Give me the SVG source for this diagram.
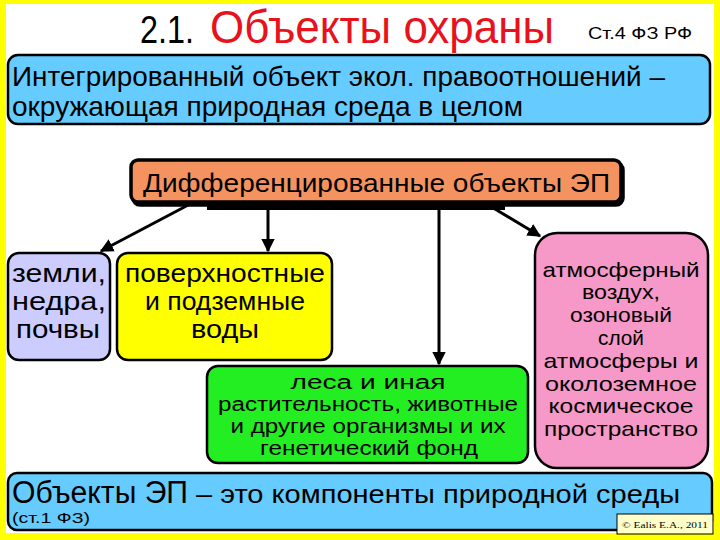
<svg xmlns="http://www.w3.org/2000/svg" width="720" height="540" viewBox="0 0 720 540">
<style>
text{font-family:"Liberation Sans",Arial,sans-serif;fill:#000}
.box{stroke:#000;stroke-width:2.5}
.c{text-anchor:middle}
.con{stroke:#000;stroke-width:3;fill:none}
</style>
<defs>
<marker id="ah" viewBox="0 0 10 10" refX="9" refY="5" markerWidth="4.5" markerHeight="4.5" orient="auto" markerUnits="strokeWidth">
<path d="M0,0 L10,5 L0,10 z" fill="#000"/>
</marker>
<filter id="sh" x="-5%" y="-20%" width="110%" height="150%">
<feDropShadow dx="2" dy="3" stdDeviation="0.5" flood-color="#000"/>
</filter>
</defs>
<rect x="0" y="0" width="720" height="540" fill="#ffff00"/>
<rect x="6" y="4" width="708" height="529" fill="#fff"/>

<g id="title">
<text x="140" y="43" font-size="38" textLength="54" lengthAdjust="spacingAndGlyphs">2.1.</text>
<text x="210" y="43" font-size="46" style="fill:#e8121c" textLength="344" lengthAdjust="spacingAndGlyphs">Объекты охраны</text>
<text x="588" y="39" font-size="17" textLength="104" lengthAdjust="spacingAndGlyphs">Ст.4 ФЗ РФ</text>
</g>

<g id="integrated">
<rect class="box" x="8" y="55" width="702" height="69" rx="10" fill="#66ccff"/>
<text x="12" y="86" font-size="28" textLength="653" lengthAdjust="spacingAndGlyphs">Интегрированный объект экол. правоотношений –</text>
<text x="12" y="116" font-size="28" textLength="511" lengthAdjust="spacingAndGlyphs">окружающая природная среда в целом</text>
</g>

<g id="differentiated">
<rect x="131" y="160" width="490" height="42" rx="7" fill="#f4935f" stroke="#000" stroke-width="3.5" filter="url(#sh)"/>
<text x="143" y="192" font-size="26" textLength="467" lengthAdjust="spacingAndGlyphs">Дифференцированные объекты ЭП</text>
</g>

<g id="connectors">
<rect x="207" y="203" width="298" height="7" fill="#000"/>
<line class="con" x1="192" y1="203" x2="101" y2="251" marker-end="url(#ah)"/>
<line class="con" x1="268" y1="210" x2="268" y2="251" marker-end="url(#ah)"/>
<line class="con" x1="439" y1="210" x2="439" y2="364" marker-end="url(#ah)"/>
<line class="con" x1="490" y1="206" x2="540" y2="236" marker-end="url(#ah)"/>
</g>

<g id="lands">
<rect class="box" x="8" y="253" width="102" height="107" rx="11" fill="#ccccff"/>
<text class="c" x="59" y="282" font-size="25" textLength="94" lengthAdjust="spacingAndGlyphs">земли,</text>
<text class="c" x="59" y="310" font-size="25" textLength="94" lengthAdjust="spacingAndGlyphs">недра,</text>
<text class="c" x="58" y="338" font-size="25" textLength="84" lengthAdjust="spacingAndGlyphs">почвы</text>
</g>

<g id="waters">
<rect class="box" x="117" y="253" width="215" height="107" rx="11" fill="#ffff00"/>
<text class="c" x="225" y="282" font-size="25" textLength="200" lengthAdjust="spacingAndGlyphs">поверхностные</text>
<text class="c" x="225" y="310" font-size="25" textLength="160" lengthAdjust="spacingAndGlyphs">и подземные</text>
<text class="c" x="225" y="338" font-size="25" textLength="68" lengthAdjust="spacingAndGlyphs">воды</text>
</g>

<g id="forests">
<rect class="box" x="207" y="366" width="321" height="97" rx="11" fill="#22ee22"/>
<text class="c" x="368" y="389" font-size="20" textLength="155" lengthAdjust="spacingAndGlyphs">леса и иная</text>
<text class="c" x="368" y="411" font-size="20" textLength="300" lengthAdjust="spacingAndGlyphs">растительность, животные</text>
<text class="c" x="368" y="433" font-size="20" textLength="275" lengthAdjust="spacingAndGlyphs">и другие организмы и их</text>
<text class="c" x="369" y="455" font-size="20" textLength="218" lengthAdjust="spacingAndGlyphs">генетический фонд</text>
</g>

<g id="atmosphere">
<rect class="box" x="535" y="233" width="173" height="235" rx="22" fill="#f799c8"/>
<text class="c" x="621" y="277" font-size="21" textLength="157" lengthAdjust="spacingAndGlyphs">атмосферный</text>
<text class="c" x="621" y="299" font-size="21" textLength="78" lengthAdjust="spacingAndGlyphs">воздух,</text>
<text class="c" x="621" y="322" font-size="21" textLength="102" lengthAdjust="spacingAndGlyphs">озоновый</text>
<text class="c" x="621" y="345" font-size="21" textLength="46" lengthAdjust="spacingAndGlyphs">слой</text>
<text class="c" x="621" y="368" font-size="21" textLength="155" lengthAdjust="spacingAndGlyphs">атмосферы и</text>
<text class="c" x="621" y="391" font-size="21" textLength="152" lengthAdjust="spacingAndGlyphs">околоземное</text>
<text class="c" x="621" y="413" font-size="21" textLength="145" lengthAdjust="spacingAndGlyphs">космическое</text>
<text class="c" x="621" y="436" font-size="21" textLength="154" lengthAdjust="spacingAndGlyphs">пространство</text>
</g>

<g id="definition">
<rect class="box" x="8" y="473" width="704" height="57" rx="9" fill="#66ccff"/>
<text x="12" y="503" font-size="31" textLength="176" lengthAdjust="spacingAndGlyphs">Объекты ЭП</text>
<text x="196" y="503" font-size="26" textLength="484" lengthAdjust="spacingAndGlyphs">– это компоненты природной среды</text>
<text x="12" y="523" font-size="15" textLength="78" lengthAdjust="spacingAndGlyphs">(ст.1 ФЗ)</text>
</g>

<g id="copyright">
<rect x="617" y="514" width="96" height="20" fill="#ffffcc" stroke="#000" stroke-width="1"/>
<text x="622" y="528" font-size="9" style="font-family:'Liberation Serif',serif" textLength="86" lengthAdjust="spacingAndGlyphs">© Ealis E.A., 2011</text>
</g>
</svg>
